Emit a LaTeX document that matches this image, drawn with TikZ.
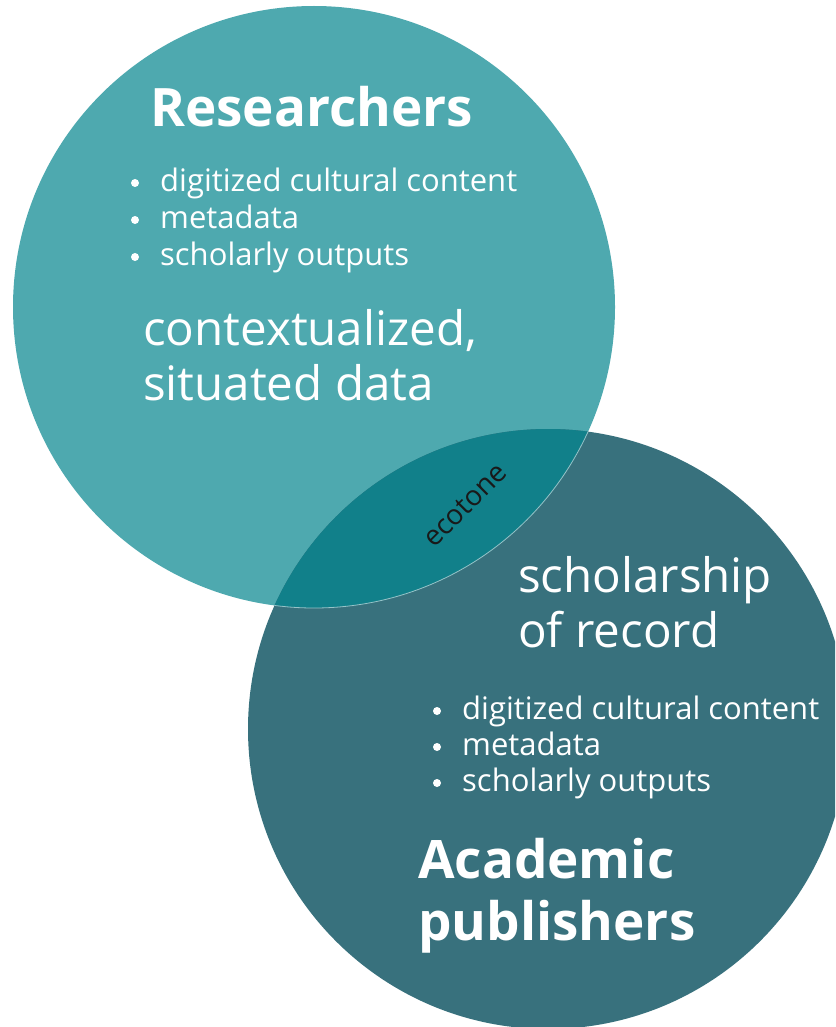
\documentclass[tikz,border=0pt]{standalone}
\usepackage{fontspec}
\setmainfont{Open Sans}
\definecolor{researchteal}{RGB}{78,169,175}
\definecolor{publisherteal}{RGB}{56,113,125}
\definecolor{ecotoneteal}{RGB}{17,128,138}
\definecolor{rimline}{RGB}{150,195,200}
\tikzset{
  title/.style={anchor=base west,text=white,inner sep=0pt,font=\fontsize{53}{60}\selectfont\bfseries},
  phrase/.style={anchor=base west,text=white,inner sep=0pt,font=\fontsize{47.5}{54}\selectfont},
  item/.style={anchor=base west,text=white,inner sep=0pt,font=\fontsize{31}{35}\selectfont},
  dot/.style={circle,fill=white,inner sep=0pt,minimum size=8pt},
}
\begin{document}
\begin{tikzpicture}[x=1pt,y=-1pt]
\clip (0,0) rectangle (835,1027);

% Circles
\coordinate (res) at (314,307);
\coordinate (pub) at (548,729);
\fill[researchteal] (res) circle (301pt);
\fill[publisherteal] (pub) circle (300pt);

% Ecotone (overlap)
\begin{scope}
  \clip (res) circle (301pt);
  \fill[ecotoneteal] (pub) circle (300pt);
\end{scope}
\begin{scope}
  \clip (pub) circle (300pt);
  \draw[rimline,line width=0.8pt] (res) circle (301pt);
\end{scope}
\node[rotate=45,text=black!90,font=\fontsize{28}{30}\selectfont] (eco) at (465,505) {ecotone};

% Researchers
\node[title] (restitle) at (150,127) {Researchers};
\foreach \txt [count=\i] in {digitized cultural content,metadata,scholarly outputs}{
  \node[item] (rl\i) at (160,154+37*\i) {\txt};
  \node[dot] (rd\i) at ([xshift=-25pt,yshift=8pt]rl\i.base west) {};
}
\node[phrase] (ctx1) at (143,345) {contextualized,};
\node[phrase] (ctx2) at (143,400) {situated data};

% Academic publishers
\node[phrase] (sch1) at (518,592) {scholarship};
\node[phrase] (sch2) at (518,647) {of record};
\foreach \txt [count=\i] in {digitized cultural content,metadata,scholarly outputs}{
  \node[item] (pl\i) at (462,683+36*\i) {\txt};
  \node[dot] (pd\i) at ([xshift=-25pt,yshift=8pt]pl\i.base west) {};
}
\node[title] (pubtitle1) at (418,878) {Academic};
\node[title] (pubtitle2) at (418,940) {publishers};

\end{tikzpicture}
\end{document}
